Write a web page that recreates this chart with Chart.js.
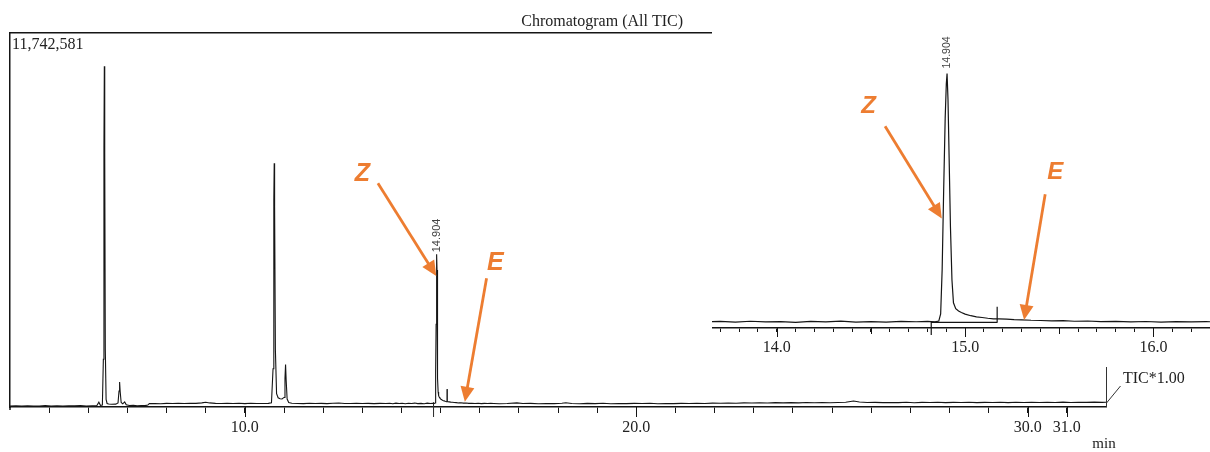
<!DOCTYPE html>
<html><head><meta charset="utf-8">
<script src="https://cdn.jsdelivr.net/npm/chart.js@4.4.1/dist/chart.umd.min.js"></script>
<style>
html,body{margin:0;padding:0;background:#fff;}
#wrap{position:relative;width:1210px;height:452px;overflow:hidden;background:#fff;}
#main{position:absolute;left:0;top:0;width:1210px;height:452px;}
#inset{position:absolute;left:712px;top:0;width:498px;height:360px;background:#fff;}
</style></head><body>
<div id="wrap"><canvas id="main" width="1210" height="452"></canvas><canvas id="inset" width="498" height="360"></canvas></div>
<script>
// ---------- data ----------
const retentionTime = [
 4.00,4.15,4.30,4.45,4.60,4.75,4.90,5.05,5.20,5.35,5.50,5.65,5.80,5.95,6.10,6.22,6.27,6.31,
 6.36,6.385,6.400,6.410,6.420,6.435,6.455,6.48,6.52,6.60,6.70,6.76,6.785,6.800,6.815,6.84,6.88,6.93,6.97,
 7.05,7.15,7.25,7.35,7.45,7.52,7.56,7.70,7.85,8.00,8.15,8.30,8.45,8.60,8.75,8.90,9.00,9.10,9.25,9.40,9.55,9.70,9.85,
 10.00,10.15,10.30,10.45,10.60,10.68,10.72,10.74,10.75,10.76,10.78,10.81,10.85,10.90,10.95,11.00,11.025,11.04,11.055,11.08,11.12,11.20,
 11.35,11.50,11.65,11.80,11.95,12.10,12.25,12.40,12.55,12.70,12.85,13.00,13.15,13.30,13.45,13.60,
 13.70,13.78,13.86,13.94,14.02,14.10,14.18,14.26,14.34,14.42,14.50,14.58,14.66,14.74,14.80,14.84,
 14.860,14.870,14.878,14.886,14.894,14.900,14.904,14.909,14.915,14.922,14.930,14.938,14.950,14.965,14.980,
 15.00,15.03,15.06,15.09,15.12,15.15,15.18,15.22,15.26,15.30,15.35,15.40,15.46,15.52,15.58,15.65,15.72,15.80,15.88,15.96,
 16.04,16.12,16.20,16.28,16.36,16.50,16.70,16.95,17.10,17.30,17.50,17.70,17.90,18.10,18.20,18.35,18.55,18.75,18.95,
 19.15,19.35,19.55,19.75,19.95,20.15,20.35,20.55,20.75,20.95,21.15,21.35,21.55,21.75,21.95,22.15,22.35,22.55,22.75,22.95,
 23.15,23.35,23.55,23.75,23.95,24.15,24.35,24.55,24.75,24.95,25.15,25.35,25.55,25.70,25.90,26.10,26.30,26.50,26.70,26.90,
 27.10,27.30,27.50,27.70,27.90,28.10,28.30,28.50,28.70,28.90,29.10,29.30,29.50,29.70,29.90,30.10,30.30,30.50,30.70,30.90,
 31.10,31.30,31.50,31.70,31.90,32.00
];
const ticCounts = [
 30000,38000,27000,41000,33000,29000,44000,31000,36000,26000,39000,34000,42000,30000,37000,45000,150000,52000,
 60000,1500000,8200000,10700000,8000000,1800000,240000,110000,95000,85000,90000,130000,500000,785000,480000,140000,100000,160000,70000,
 45000,52000,40000,48000,43000,60000,105000,112000,104000,115000,108000,117000,110000,120000,113000,130000,150000,128000,114000,109000,118000,111000,116000,
 106000,119000,112000,108000,115000,130000,1200000,6500000,7650000,6300000,1800000,420000,290000,260000,250000,300000,900000,1330000,850000,250000,140000,118000,
 112000,105000,118000,110000,114000,107000,116000,125000,111000,108000,117000,110000,114000,106000,115000,109000,
 118000,104000,121000,109000,116000,101000,119000,110000,123000,106000,114000,104000,120000,112000,118000,110000,
 125000,260000,1100000,2600000,3950000,4600000,4796000,4300000,3200000,1900000,900000,470000,360000,315000,285000,
 255000,226000,205000,192000,178000,168000,165000,160000,152000,148000,140000,136000,128000,132000,121000,126000,114000,120000,110000,117000,
 106000,115000,108000,113000,110000,104000,112000,130000,108000,115000,103000,111000,106000,118000,135000,112000,104000,113000,107000,
 116000,102000,110000,105000,114000,108000,117000,103000,112000,106000,115000,109000,118000,111000,121000,116000,126000,119000,130000,124000,
 133000,127000,136000,129000,138000,131000,140000,134000,142000,135000,141000,150000,190000,155000,140000,146000,136000,143000,138000,147000,
 135000,144000,139000,148000,136000,145000,140000,149000,137000,146000,141000,150000,138000,147000,142000,151000,139000,148000,143000,152000,
 140000,149000,144000,153000,146000,148000
];
const fullScale = 11742581;
const mainRange = [4, 32];
const insetRange = [13.656, 16.30];
const insetCountRange = [-6000, 6184000];
const mainTickLabels = [10, 20, 30, 31];
const insetTickLabels = [14, 15, 16];
const insetHalfTicks = [14.5, 15.5];
const apexTime = 14.904;
const apexText = '14.904';
const integStart = 14.82;
const integEnd = 15.17;
const integBase = 100000;

// annotation arrows (data coordinates)
const mainNotes = [
  {text:'Z', tx:13.00, ty:7378000, x0:13.40, y0:7024000, x1:14.89, y1:4113000},
  {text:'E', tx:16.40, ty:4584000, x0:16.175, y0:4041000, x1:15.62, y1:166000}
];
const insetNotes = [
  {text:'Z', tx:14.4875, ty:4221000, x0:14.575, y0:3802000, x1:14.876, y1:2062000},
  {text:'E', tx:15.478, ty:2973000, x0:15.425, y0:2520000, x1:15.313, y1:145000}
];

// ---------- styling ----------
const ORANGE = '#ED7D31';
const INK = '#151515';
const SERIF = '"Liberation Serif", "Times New Roman", serif';
const SANS = '"Liberation Sans", Arial, sans-serif';

const series = retentionTime.map((t, i) => ({x: t, y: ticCounts[i]}));
const apexCounts = ticCounts[retentionTime.indexOf(apexTime)];

function near(v, arr){ return arr.some(a => Math.abs(a - v) < 1e-6); }

function arrowPlugin(notes, fontPx){
  return {
    id: 'arrows',
    afterDatasetsDraw(chart){
      const {ctx, scales:{x, y}} = chart;
      ctx.save();
      notes.forEach(n => {
        const ax = x.getPixelForValue(n.x0), ay = y.getPixelForValue(n.y0);
        const bx = x.getPixelForValue(n.x1), by = y.getPixelForValue(n.y1);
        const ang = Math.atan2(by - ay, bx - ax);
        const hl = 15, hw = 7;
        const ex = bx - Math.cos(ang) * hl, ey = by - Math.sin(ang) * hl;
        ctx.strokeStyle = ORANGE; ctx.fillStyle = ORANGE; ctx.lineWidth = 2.8; ctx.lineCap = 'butt';
        ctx.beginPath(); ctx.moveTo(ax, ay); ctx.lineTo(ex + Math.cos(ang)*1, ey + Math.sin(ang)*1); ctx.stroke();
        ctx.beginPath();
        ctx.moveTo(bx, by);
        ctx.lineTo(ex + Math.sin(ang) * hw, ey - Math.cos(ang) * hw);
        ctx.lineTo(ex - Math.sin(ang) * hw, ey + Math.cos(ang) * hw);
        ctx.closePath(); ctx.fill();
        ctx.font = 'italic bold ' + fontPx + 'px ' + SANS;
        ctx.textAlign = 'center'; ctx.textBaseline = 'middle';
        ctx.fillText(n.text, x.getPixelForValue(n.tx), y.getPixelForValue(n.ty) + 2);
      });
      ctx.restore();
    }
  };
}

function tickExtPlugin(lenFn){
  return {
    id: 'tickExt',
    afterDraw(chart){
      const {ctx, scales:{x}} = chart;
      ctx.save(); ctx.strokeStyle = INK; ctx.lineWidth = 1;
      x.ticks.forEach(t => {
        const len = lenFn(t.value);
        if (!len) return;
        const px = Math.round(x.getPixelForValue(t.value)) + 0.5;
        ctx.beginPath(); ctx.moveTo(px, x.top); ctx.lineTo(px, x.top + len); ctx.stroke();
      });
      ctx.restore();
    }
  };
}

function apexLabelPlugin(gap, fontPx){
  return {
    id: 'apexLabel',
    afterDatasetsDraw(chart){
      const {ctx, scales:{x, y}} = chart;
      const px = x.getPixelForValue(apexTime), py = y.getPixelForValue(apexCounts) - gap;
      ctx.save();
      ctx.translate(px + 0.5, py); ctx.rotate(-Math.PI / 2);
      ctx.font = fontPx + 'px ' + SANS; ctx.fillStyle = '#444';
      ctx.textAlign = 'left'; ctx.textBaseline = 'middle';
      ctx.fillText(apexText, 0, 0);
      ctx.restore();
    }
  };
}

const mainTextPlugin = {
  id: 'mainText',
  afterDraw(chart){
    const {ctx, chartArea:a} = chart;
    ctx.save();
    ctx.fillStyle = '#222'; ctx.font = '16px ' + SERIF; ctx.textBaseline = 'alphabetic';
    ctx.textAlign = 'left';
    ctx.fillText(fullScale.toLocaleString('en-US'), a.left + 2, a.top + 16);
    ctx.textAlign = 'right';
    ctx.fillText('Chromatogram (All TIC)', 683, 26);
    ctx.textAlign = 'left';
    ctx.fillText('TIC*1.00', 1123, 383);
    ctx.font = '15px ' + SERIF; ctx.textAlign = 'center';
    ctx.fillText('min', 1104, 448);
    // TIC scale marker
    const rx = Math.round(a.right) + 0.5;
    ctx.strokeStyle = '#333'; ctx.lineWidth = 1;
    ctx.beginPath(); ctx.moveTo(rx, 367); ctx.lineTo(rx, a.bottom); ctx.stroke();
    ctx.beginPath(); ctx.moveTo(rx, a.bottom - 4); ctx.lineTo(rx + 14, a.bottom - 21); ctx.stroke();
    // left border extends a bit below axis
    ctx.strokeStyle = INK; ctx.lineWidth = 1.5;
    ctx.beginPath(); ctx.moveTo(a.left, a.bottom); ctx.lineTo(a.left, a.bottom + 3); ctx.stroke();
    ctx.restore();
  }
};

function lineDS(data, w){
  return {data, borderColor: INK, borderWidth: w, pointRadius: 0, tension: 0, fill: false, spanGaps: false};
}
function fitX(h){
  return function(s){ s.height = h; s.paddingLeft = 0; s.paddingRight = 0; };
}

// ---------- main chart ----------
const mainMarkers = [
  {x: integStart, y: 140000}, {x: integStart, y: -314000}, {x: integStart, y: null},
  {x: integEnd, y: 560000}, {x: integEnd, y: 165000}
];
new Chart(document.getElementById('main'), {
  type: 'line',
  data: {datasets: [
    lineDS(series, 1.1),
    Object.assign(lineDS(mainMarkers, 1), {clip: false, borderColor: '#333'})
  ]},
  options: {
    responsive: false, animation: false, devicePixelRatio: 1,
    layout: {autoPadding: false, padding: {left: 10, right: 104, top: 33, bottom: 0}},
    plugins: {legend: {display: false}, tooltip: {enabled: false}, title: {display: false}},
    scales: {
      x: {
        type: 'linear', min: mainRange[0], max: mainRange[1], position: 'bottom',
        afterFit: fitX(45),
        ticks: {stepSize: 1, autoSkip: false, maxRotation: 0, includeBounds: false, padding: 5,
          color: '#222', font: {family: SERIF, size: 16},
          callback: v => near(v, mainTickLabels) ? Number(v).toFixed(1) : ''},
        grid: {drawOnChartArea: false, drawTicks: true, tickLength: 6, lineWidth: 1,
          color: c => (c.tick && (near(c.tick.value, [mainRange[0], mainRange[1]]))) ? 'rgba(0,0,0,0)' : INK},
        border: {display: true, color: INK, width: 1.6}
      },
      xTop: {
        type: 'linear', min: mainRange[0], max: mainRange[1], position: 'top',
        afterFit(s){ s.height = 0; s.paddingLeft = 0; s.paddingRight = 0; },
        ticks: {display: false}, grid: {display: false, drawTicks: false},
        border: {display: true, color: INK, width: 1.5}
      },
      y: {
        type: 'linear', min: 0, max: fullScale, position: 'left',
        afterFit(s){ s.width = 0; },
        ticks: {display: false}, grid: {display: false, drawTicks: false},
        border: {display: true, color: INK, width: 1.5}
      }
    }
  },
  plugins: [
    tickExtPlugin(v => near(v, mainTickLabels) ? 10 : 0),
    apexLabelPlugin(2, 11),
    arrowPlugin(mainNotes, 25),
    mainTextPlugin
  ]
});

// ---------- inset (zoom around 14.9 min) ----------
const insetMarkers = [
  {x: integStart, y: 110000}, {x: integStart, y: -140000}, {x: integStart, y: null},
  {x: integEnd, y: 396000}, {x: integEnd, y: 95000}, {x: integEnd, y: null},
  {x: integStart, y: integBase}, {x: integEnd, y: integBase}
];
new Chart(document.getElementById('inset'), {
  type: 'line',
  data: {datasets: [
    lineDS(series, 1.2),
    Object.assign(lineDS(insetMarkers, 1.2), {clip: false})
  ]},
  options: {
    responsive: false, animation: false, devicePixelRatio: 1,
    layout: {autoPadding: false, padding: {left: 0, right: 0, top: 0, bottom: 0}},
    plugins: {legend: {display: false}, tooltip: {enabled: false}},
    scales: {
      x: {
        type: 'linear', min: insetRange[0], max: insetRange[1], position: 'bottom',
        afterFit: fitX(32),
        ticks: {stepSize: 0.1, autoSkip: false, maxRotation: 0, includeBounds: false, padding: 6,
          color: '#222', font: {family: SERIF, size: 16},
          callback: v => near(v, insetTickLabels) ? Number(v).toFixed(1) : ''},
        grid: {drawOnChartArea: false, drawTicks: true, tickLength: 4, lineWidth: 1, color: INK},
        border: {display: true, color: INK, width: 1.6}
      },
      y: {type: 'linear', min: insetCountRange[0], max: insetCountRange[1], display: false}
    }
  },
  plugins: [
    tickExtPlugin(v => near(v, insetTickLabels) ? 9 : (near(v, insetHalfTicks) ? 6 : 0)),
    apexLabelPlugin(5, 10.5),
    arrowPlugin(insetNotes, 24)
  ]
});
</script>
</body></html>
